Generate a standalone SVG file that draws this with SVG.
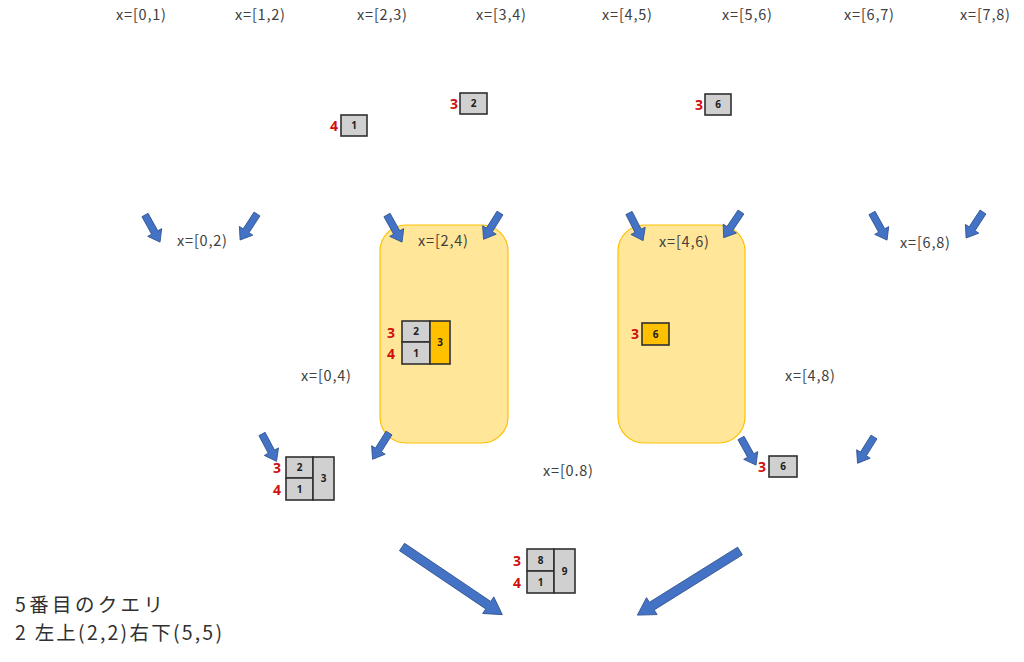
<svg xmlns="http://www.w3.org/2000/svg" width="1024" height="662" viewBox="0 0 1024 662">
<style>
.lbl{font-family:"Noto Sans CJK JP","Noto Sans",sans-serif;font-size:14.5px;fill:#404040;text-anchor:middle}
.cell{fill:#D0D0D0;stroke:#303030;stroke-width:1.6}
.hot{fill:#FFC000;stroke:#303030;stroke-width:1.6}
.num{font-family:"Noto Sans","Liberation Sans",sans-serif;font-size:10px;font-weight:bold;fill:#202020;text-anchor:middle}
.red{font-family:"Noto Sans","Liberation Sans",sans-serif;font-size:14px;font-weight:bold;fill:#D01010;text-anchor:middle}
.grp{fill:#FFE699;stroke:#FFC000;stroke-width:1.2}
.arr{fill:#4472C4;stroke:#2F528F;stroke-width:0.8}
.note{font-family:"Noto Sans CJK JP","Noto Sans",sans-serif;font-size:19.5px;fill:#303030}
</style>
<defs>
<path id="sa" d="M0,-3.5 L20,-3.5 L20,-8 L31,0 L20,8 L20,3.5 L0,3.5 Z"/>
<path id="ba" d="M0,-4.5 L104,-4.5 L104,-10 L121,0 L104,10 L104,4.5 L0,4.5 Z"/>
</defs>

<g id="top-labels">
<text class="lbl" x="141" y="20" textLength="50" lengthAdjust="spacing">x=[0,1)</text>
<text class="lbl" x="260" y="20" textLength="50" lengthAdjust="spacing">x=[1,2)</text>
<text class="lbl" x="382" y="20" textLength="50" lengthAdjust="spacing">x=[2,3)</text>
<text class="lbl" x="501" y="20" textLength="50" lengthAdjust="spacing">x=[3,4)</text>
<text class="lbl" x="627" y="20" textLength="50" lengthAdjust="spacing">x=[4,5)</text>
<text class="lbl" x="747" y="20" textLength="50" lengthAdjust="spacing">x=[5,6)</text>
<text class="lbl" x="869" y="20" textLength="50" lengthAdjust="spacing">x=[6,7)</text>
<text class="lbl" x="985" y="20" textLength="50" lengthAdjust="spacing">x=[7,8)</text>
</g>

<g id="leaf-1">
<rect class="cell" x="341" y="115" width="26" height="21"/>
<text class="num" x="354" y="129">1</text>
<text class="red" x="334" y="131">4</text>
</g>
<g id="leaf-2">
<rect class="cell" x="460" y="93" width="27" height="21"/>
<text class="num" x="473.5" y="107">2</text>
<text class="red" x="454" y="109">3</text>
</g>
<g id="leaf-6">
<rect class="cell" x="705" y="94" width="26" height="21"/>
<text class="num" x="718" y="108">6</text>
<text class="red" x="699" y="110">3</text>
</g>

<g id="group-2-4">
<rect class="grp" x="380" y="225" width="128" height="218" rx="26"/>
<text class="lbl" x="443" y="246" textLength="50" lengthAdjust="spacing">x=[2,4)</text>
<rect class="cell" x="402" y="321" width="28" height="21"/>
<rect class="cell" x="402" y="342" width="28" height="22"/>
<rect class="hot" x="430" y="321" width="20" height="43"/>
<text class="num" x="416" y="335">2</text>
<text class="num" x="416" y="357">1</text>
<text class="num" x="440" y="346">3</text>
<text class="red" x="391" y="338">3</text>
<text class="red" x="391" y="359">4</text>
</g>

<g id="group-4-6">
<rect class="grp" x="618" y="225" width="127" height="218" rx="26"/>
<text class="lbl" x="684" y="247" textLength="50" lengthAdjust="spacing">x=[4,6)</text>
<rect class="hot" x="642" y="323" width="27" height="22"/>
<text class="num" x="655.5" y="338">6</text>
<text class="red" x="635" y="339">3</text>
</g>

<g id="label-0-2"><text class="lbl" x="202" y="246" textLength="50" lengthAdjust="spacing">x=[0,2)</text></g>
<g id="label-6-8"><text class="lbl" x="925" y="248" textLength="50" lengthAdjust="spacing">x=[6,8)</text></g>
<g id="label-0-4"><text class="lbl" x="326" y="381" textLength="50" lengthAdjust="spacing">x=[0,4)</text></g>
<g id="label-4-8"><text class="lbl" x="810" y="381" textLength="50" lengthAdjust="spacing">x=[4,8)</text></g>
<g id="label-0-8"><text class="lbl" x="568" y="476" textLength="50" lengthAdjust="spacing">x=[0.8)</text></g>

<g id="node-0-4">
<rect class="cell" x="286" y="457" width="27" height="21"/>
<rect class="cell" x="286" y="478" width="27" height="22"/>
<rect class="cell" x="313" y="457" width="21" height="43"/>
<text class="num" x="299.5" y="471">2</text>
<text class="num" x="299.5" y="493">1</text>
<text class="num" x="323.5" y="482">3</text>
<text class="red" x="277" y="473">3</text>
<text class="red" x="277" y="495">4</text>
</g>

<g id="node-4-8">
<rect class="cell" x="769" y="456" width="28" height="21"/>
<text class="num" x="783" y="470">6</text>
<text class="red" x="762" y="472">3</text>
</g>

<g id="node-0-8">
<rect class="cell" x="527" y="549" width="27" height="22"/>
<rect class="cell" x="527" y="571" width="27" height="22"/>
<rect class="cell" x="554" y="549" width="21" height="44"/>
<text class="num" x="540.5" y="564">8</text>
<text class="num" x="540.5" y="586">1</text>
<text class="num" x="564.5" y="575">9</text>
<text class="red" x="517" y="566">3</text>
<text class="red" x="517" y="588">4</text>
</g>

<g id="connectors" class="arr">
<use href="#sa" transform="translate(145,215) rotate(61)"/>
<use href="#sa" transform="translate(257,214) rotate(123)"/>
<use href="#sa" transform="translate(387,215) rotate(61)"/>
<use href="#sa" transform="translate(500,213) rotate(122)"/>
<use href="#sa" transform="translate(629,213) rotate(63)"/>
<use href="#sa" transform="translate(741,212) rotate(124)"/>
<use href="#sa" transform="translate(872,213) rotate(61)"/>
<use href="#sa" transform="translate(983,212) rotate(123)"/>
<use href="#sa" transform="translate(262,434) rotate(62)"/>
<use href="#sa" transform="translate(389,433) rotate(122)"/>
<use href="#sa" transform="translate(741,438) rotate(61)"/>
<use href="#sa" transform="translate(874,437) rotate(122)"/>
<use href="#ba" transform="translate(402,547) rotate(34)"/>
<use href="#ba" transform="translate(740,551) rotate(148)"/>
</g>

<g id="note">
<text class="note" x="15" y="612" textLength="148" lengthAdjust="spacing">5番目のクエリ</text>
<text class="note" x="15" y="640" textLength="207" lengthAdjust="spacing">2 左上(2,2)右下(5,5)</text>
</g>
</svg>
